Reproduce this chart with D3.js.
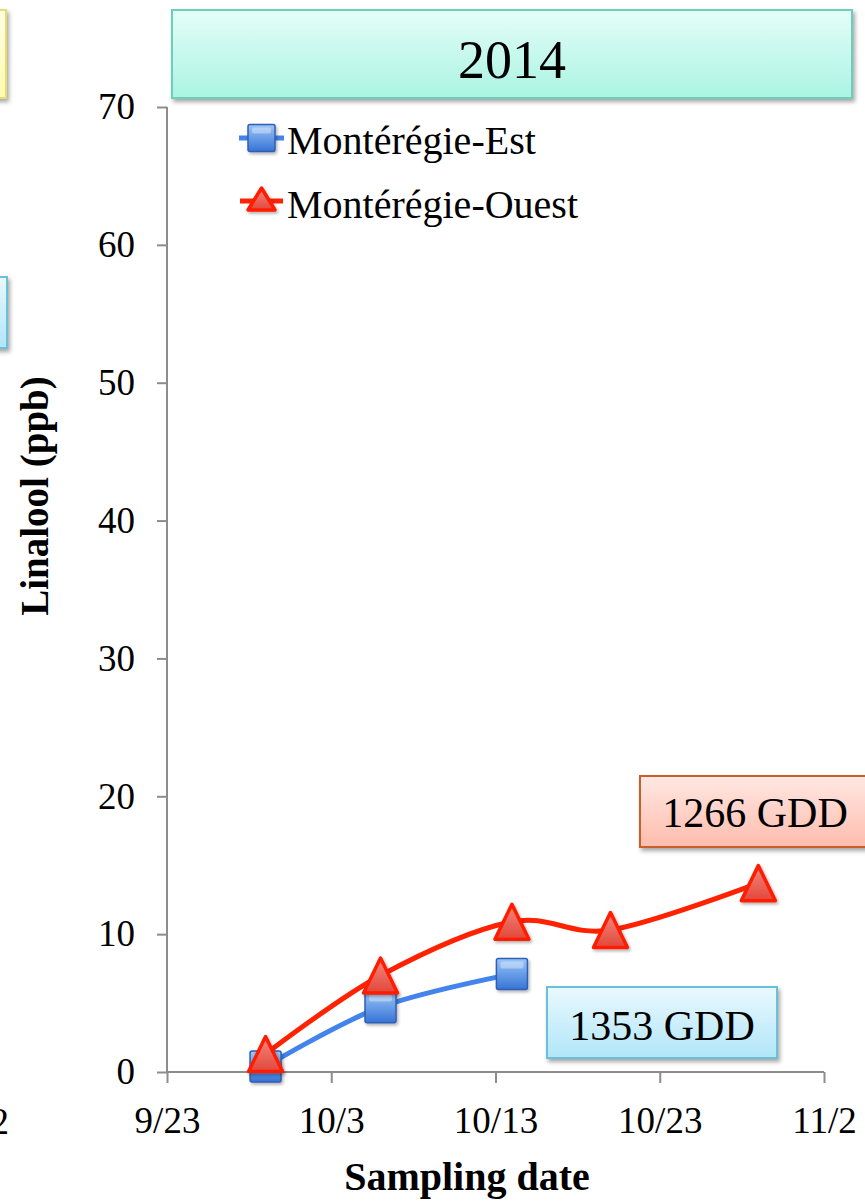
<!DOCTYPE html>
<html>
<head>
<meta charset="utf-8">
<script src="https://cdn.jsdelivr.net/npm/d3@7/dist/d3.min.js"></script>
<style>
  html, body { margin: 0; padding: 0; background: #fff; }
  svg { display: block; font-family: "Liberation Serif", "Times New Roman", serif; }
</style>
</head>
<body>
<svg id="chart" width="865" height="1204"></svg>
<script>
// ---- data ----
const seriesNames = ["Montérégie-Est", "Montérégie-Ouest"];
const estDates = ["2014-09-29", "2014-10-06", "2014-10-14"];
const estValues = [0.4, 4.7, 7.1];
const ouestDates = ["2014-09-29", "2014-10-06", "2014-10-14", "2014-10-20", "2014-10-29"];
const ouestValues = [1.3, 7.0, 10.9, 10.3, 13.7];
const xTickDates = ["2014-09-23", "2014-10-03", "2014-10-13", "2014-10-23", "2014-11-02"];
const yTickValues = [0, 10, 20, 30, 40, 50, 60, 70];
const titleText = "2014";
const gddOuest = "1266 GDD";
const gddEst = "1353 GDD";
const yTitle = "Linalool (ppb)";
const xTitle = "Sampling date";
const neighbourLabel = "2";

const parse = d3.timeParse("%Y-%m-%d");
const svg = d3.select("#chart");
const defs = svg.append("defs");

function vgrad(id, c1, c2) {
  const g = defs.append("linearGradient").attr("id", id)
    .attr("x1", 0).attr("y1", 0).attr("x2", 0).attr("y2", 1);
  g.append("stop").attr("offset", "0%").attr("stop-color", c1);
  g.append("stop").attr("offset", "100%").attr("stop-color", c2);
}
vgrad("gTitle", "#e4fdf8", "#aaf4e2");
vgrad("gPink", "#ffe8e3", "#ffbcad");
vgrad("gBlue", "#eaf8fe", "#b1e6f9");
vgrad("gYellow", "#ffffe4", "#fffbb0");
vgrad("gSq", "#9cc6f7", "#3673d6");
vgrad("gTri", "#f3897f", "#e2473a");

const sh = defs.append("filter").attr("id", "shadow")
  .attr("x", "-20%").attr("y", "-20%").attr("width", "150%").attr("height", "150%");
sh.append("feDropShadow").attr("dx", 2).attr("dy", 3).attr("stdDeviation", 2)
  .attr("flood-color", "#000").attr("flood-opacity", 0.35);
const msh = defs.append("filter").attr("id", "mshadow")
  .attr("x", "-30%").attr("y", "-30%").attr("width", "170%").attr("height", "170%");
msh.append("feDropShadow").attr("dx", 1.5).attr("dy", 2).attr("stdDeviation", 1.5)
  .attr("flood-color", "#000").attr("flood-opacity", 0.3);

// ---- scales ----
const x = d3.scaleTime()
  .domain([parse(xTickDates[0]), parse(xTickDates[xTickDates.length - 1])])
  .range([167, 824]);
const y = d3.scaleLinear().domain([0, 70]).range([1072, 107]);

// ---- neighbouring panel fragments (left edge) ----
svg.append("rect").attr("x", -100).attr("y", 10).attr("width", 106).attr("height", 88)
  .attr("fill", "url(#gYellow)").attr("stroke", "#e6dd72").attr("stroke-width", 2)
  .attr("filter", "url(#shadow)");
svg.append("rect").attr("x", -100).attr("y", 277).attr("width", 107).attr("height", 71)
  .attr("fill", "url(#gBlue)").attr("stroke", "#6cbfd8").attr("stroke-width", 2)
  .attr("filter", "url(#shadow)");
svg.append("text").attr("x", 9).attr("y", 1134).attr("text-anchor", "end")
  .attr("font-size", 37).text(neighbourLabel);

// ---- title box ----
svg.append("rect").attr("x", 172).attr("y", 10).attr("width", 680).attr("height", 88)
  .attr("fill", "url(#gTitle)").attr("stroke", "#6ccfba").attr("stroke-width", 2)
  .attr("filter", "url(#shadow)");
svg.append("text").attr("x", 512).attr("y", 78).attr("text-anchor", "middle")
  .attr("font-size", 54).text(titleText);

// ---- axes ----
const yAxis = d3.axisLeft(y).tickValues(yTickValues).tickSize(10).tickPadding(22);
const gy = svg.append("g").attr("transform", "translate(167,0)").call(yAxis);
const xAxis = d3.axisBottom(x).tickValues(xTickDates.map(parse)).tickSize(11).tickPadding(24)
  .tickFormat(d3.timeFormat("%-m/%-d"));
const gx = svg.append("g").attr("transform", "translate(0,1072)").call(xAxis);
[gx, gy].forEach(g => {
  g.select(".domain").attr("stroke", "#8c8c8c").attr("stroke-width", 2);
  g.selectAll(".tick line").attr("stroke", "#8c8c8c").attr("stroke-width", 2);
  g.selectAll(".tick text").attr("font-size", 37)
    .attr("font-family", "'Liberation Serif', 'Times New Roman', serif").attr("fill", "#000");
});
gy.select(".domain").attr("d", "M0,107V1072");
gx.select(".domain").attr("d", "M167,0H824");

// axis titles
svg.append("text").attr("transform", "translate(48,496) rotate(-90)")
  .attr("text-anchor", "middle").attr("font-size", 39).attr("font-weight", "bold").text(yTitle);
svg.append("text").attr("x", 467).attr("y", 1190)
  .attr("text-anchor", "middle").attr("font-size", 40).attr("font-weight", "bold").text(xTitle);

// ---- GDD boxes ----
svg.append("rect").attr("x", 640).attr("y", 776).attr("width", 240).attr("height", 71)
  .attr("fill", "url(#gPink)").attr("stroke", "#c65e2c").attr("stroke-width", 2)
  .attr("filter", "url(#shadow)");
svg.append("text").attr("x", 755).attr("y", 827).attr("text-anchor", "middle")
  .attr("font-size", 42).text(gddOuest);

// ---- series ----
const line = d3.line().x(d => x(d.date)).y(d => y(d.value)).curve(d3.curveCardinal.tension(0));
const estData = estDates.map((d, i) => ({ date: parse(d), value: estValues[i] }));
const ouestData = ouestDates.map((d, i) => ({ date: parse(d), value: ouestValues[i] }));

function square(g, cx, cy, s) {
  g.append("rect").attr("x", cx - s / 2).attr("y", cy - s / 2).attr("width", s).attr("height", s)
    .attr("rx", 2).attr("fill", "url(#gSq)").attr("stroke", "#2f5fb3").attr("stroke-width", 1.5)
    .attr("filter", "url(#mshadow)");
  g.append("rect").attr("x", cx - s / 2 + 4).attr("y", cy - s / 2 + 3).attr("width", s - 8).attr("height", s * 0.22)
    .attr("rx", 2).attr("fill", "#fff").attr("opacity", 0.35);
}
function triangle(g, cx, cy, w, h) {
  g.append("path")
    .attr("d", `M${cx},${cy - h / 2}L${cx + w / 2},${cy + h / 2}L${cx - w / 2},${cy + h / 2}Z`)
    .attr("fill", "url(#gTri)").attr("stroke", "#ff1e00").attr("stroke-width", 3.5)
    .attr("stroke-linejoin", "round").attr("filter", "url(#mshadow)");
}

const gEst = svg.append("g");
gEst.append("path").datum(estData).attr("d", line).attr("fill", "none")
  .attr("stroke", "#4384ec").attr("stroke-width", 5);
estData.forEach(d => square(gEst, x(d.date), y(d.value), 31));

const gOu = svg.append("g");
gOu.append("path").datum(ouestData).attr("d", line).attr("fill", "none")
  .attr("stroke", "#ff2200").attr("stroke-width", 5);
ouestData.forEach(d => triangle(gOu, x(d.date), y(d.value), 34, 35));

// 1353 box (drawn over plot)
svg.append("rect").attr("x", 547).attr("y", 987).attr("width", 230).attr("height", 71)
  .attr("fill", "url(#gBlue)").attr("stroke", "#6cbfd8").attr("stroke-width", 2)
  .attr("filter", "url(#shadow)");
svg.append("text").attr("x", 662).attr("y", 1040).attr("text-anchor", "middle")
  .attr("font-size", 42).text(gddEst);

// ---- legend ----
const lg = svg.append("g");
lg.append("line").attr("x1", 239).attr("x2", 284).attr("y1", 138).attr("y2", 138)
  .attr("stroke", "#4384ec").attr("stroke-width", 5);
square(lg, 261.5, 138, 27);
lg.append("text").attr("x", 287).attr("y", 154).attr("font-size", 40).text(seriesNames[0]);
lg.append("line").attr("x1", 240).attr("x2", 283).attr("y1", 201).attr("y2", 201)
  .attr("stroke", "#ff2200").attr("stroke-width", 5);
triangle(lg, 261.5, 199, 27, 22);
lg.append("text").attr("x", 287).attr("y", 218).attr("font-size", 40).text(seriesNames[1]);
</script>
</body>
</html>
